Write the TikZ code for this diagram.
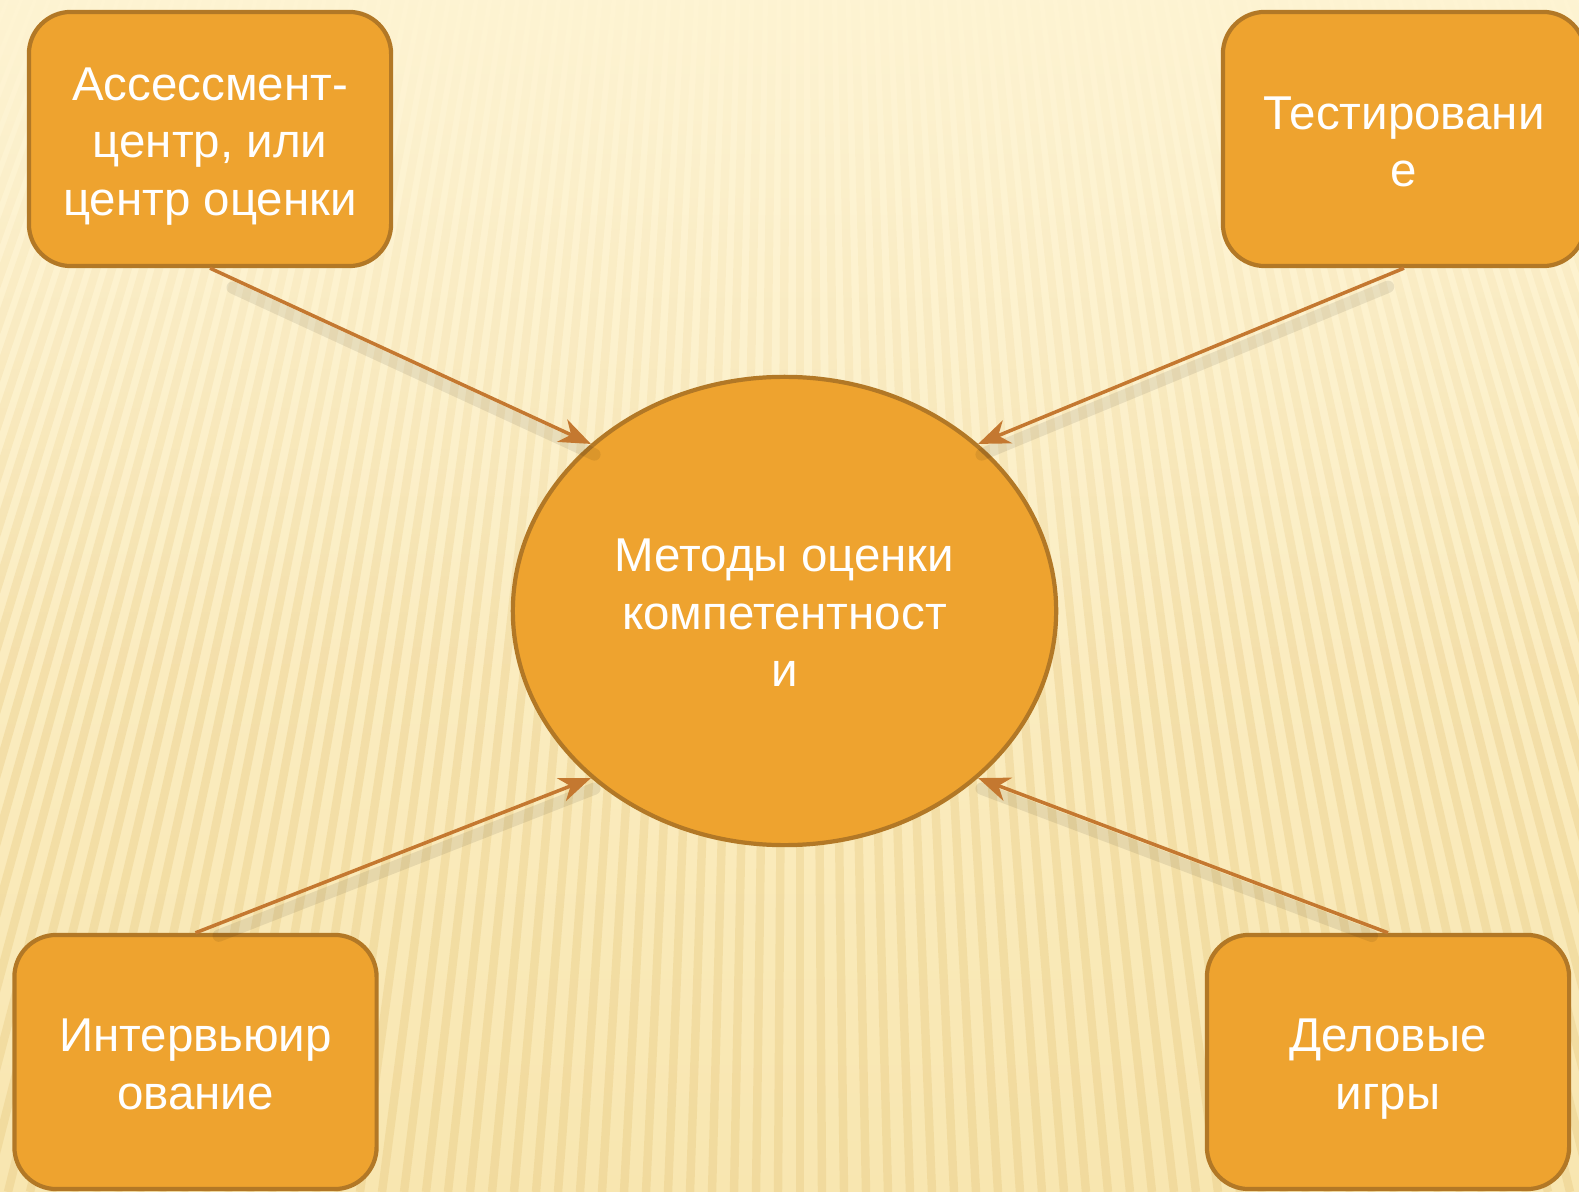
\documentclass[tikz,border=0pt]{standalone}
\usepackage{fontspec}
\setmainfont{Liberation Sans}
\usetikzlibrary{arrows.meta,shapes.geometric,fadings}
\definecolor{boxfill}{HTML}{EEA32F}
\definecolor{boxline}{HTML}{B27826}
\definecolor{arrowc}{HTML}{C47830}
\definecolor{bgtop}{HTML}{FEF4D3}
\definecolor{bgbot}{HTML}{F8E6B0}
\definecolor{stripe}{HTML}{D9AE52}
\tikzfading[name=topfade, top color=transparent!0, bottom color=transparent!100]
\begin{document}
\begin{tikzpicture}[x=0.01cm,y=-0.01cm,
  txt/.style={text=white, align=center, inner sep=0pt, font=\fontsize{13.5pt}{16.3pt}\selectfont},
  method/.style={draw=boxline, line width=1.2pt, fill=boxfill, rounded corners=0.42cm,
    minimum width=3.62cm, minimum height=2.54cm, inner sep=0pt},
  hub/.style={ellipse, draw=boxline, line width=1.2pt, fill=boxfill,
    minimum width=5.43cm, minimum height=4.68cm, inner sep=0pt},
  link/.style={draw=arrowc, line width=1pt, -{Stealth[length=9pt,width=7pt,inset=2.8pt]}},
  linkshadow/.style={draw=black, opacity=0.08, line width=3.5pt, line cap=round, shorten <=6pt,
    transform canvas={xshift=1pt,yshift=-3pt}}
]
\useasboundingbox (0,0) rectangle (1579,1192);
% background
\begin{scope}
  \clip (0,0) rectangle (1579,1192);
  \fill[top color=bgtop, bottom color=bgbot] (0,0) rectangle (1579,1192);
  \foreach \x in {-520,-498,...,2120}
    \draw[stripe, opacity=0.20, line width=2.4pt] (800,-2000) -- (\x,1192);
  \fill[bgtop, path fading=topfade] (0,-20) rectangle (1579,680);
\end{scope}
% shapes
\node[hub] (ell) at (784.5,611) {};
\node[method] (tl) at (210,139) {};
\node[method] (tr) at (1404,139) {};
\node[method] (bl) at (195.5,1062) {};
\node[method] (br) at (1388,1062) {};
% texts
\node[txt] (ellt) at ([yshift=-1.9pt]ell.center) {Методы оценки\strut\\компетентност\strut\\и\strut};
\node[txt] (tlt) at ([yshift=-2.1pt]tl.center) {Ассессмент-\strut\\центр, или\strut\\центр оценки\strut};
\node[txt] (trt) at ([yshift=-2.2pt]tr.center) {Тестировани\strut\\е\strut};
\node[txt] (blt) at ([yshift=-2.0pt]bl.center) {Интервьюир\strut\\ование\strut};
\node[txt] (brt) at ([yshift=-2.0pt]br.center) {Деловые\strut\\игры\strut};
% shadows of connectors
\draw[linkshadow] (tl.south) -- (ell.north west);
\draw[linkshadow] (tr.south) -- (ell.north east);
\draw[linkshadow] (bl.north) -- (ell.south west);
\draw[linkshadow] (br.north) -- (ell.south east);
% connectors
\draw[link] (tl.south) -- (ell.north west);
\draw[link] (tr.south) -- (ell.north east);
\draw[link] (bl.north) -- (ell.south west);
\draw[link] (br.north) -- (ell.south east);
\end{tikzpicture}
\end{document}
